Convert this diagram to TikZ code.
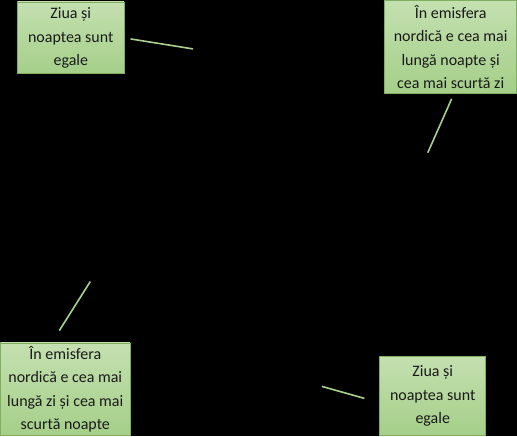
\documentclass[tikz,border=0pt]{standalone}
\usepackage{fontspec}
\setmainfont{Carlito}
\definecolor{boxtop}{HTML}{C4E0B0}
\definecolor{boxbottom}{HTML}{A5CF89}
\definecolor{boxborder}{HTML}{7FAF5E}
\definecolor{linegreen}{HTML}{A9D18E}
\definecolor{textdark}{HTML}{1A1A1A}
\begin{document}
\begin{tikzpicture}[x=1pt,y=-1pt]
% Styles
\tikzstyle{season box}=[draw=boxborder, line width=0.8pt, top color=boxtop, bottom color=boxbottom, align=center, inner sep=0pt, text=textdark, font=\fontsize{16}{23.5}\selectfont]
\tikzstyle{season line}=[draw=linegreen, line width=1.6pt]

% background
\fill[black] (0,0) rectangle (517,437);

% draw the nodes
\node[season box, minimum width=107, minimum height=72] (egal1) at (70.5,38) {Ziua și\\noaptea sunt\\egale};
\node[season box, minimum width=132, minimum height=93] (noapte) at (451,47) {În emisfera\\nordică e cea mai\\lungă noapte și\\cea mai scurtă zi};
\node[season box, minimum width=130, minimum height=93] (zi) at (65,390) {În emisfera\\nordică e cea mai\\lungă zi și cea mai\\scurtă noapte};
\node[season box, minimum width=106, minimum height=79] (egal2) at (433,396.5) {Ziua și\\noaptea sunt\\egale};

% start and end points of the lines
\coordinate (s1) at ([shift={(6,1)}]egal1.east);
\coordinate (p1) at (193,49);
\coordinate (s2) at ([shift={(1,5)}]noapte.south);
\coordinate (p2) at (428,153);
\coordinate (s3) at ([shift={(-6,-12)}]zi.north);
\coordinate (p3) at (90,282);
\coordinate (s4) at ([shift={(-15,2.5)}]egal2.west);
\coordinate (p4) at (322,387);

% add the lines
\foreach \a / \b in {s1/p1, s2/p2, s3/p3, s4/p4} {
\draw[season line] (\a) -- (\b);
}

\end{tikzpicture}
\end{document}
